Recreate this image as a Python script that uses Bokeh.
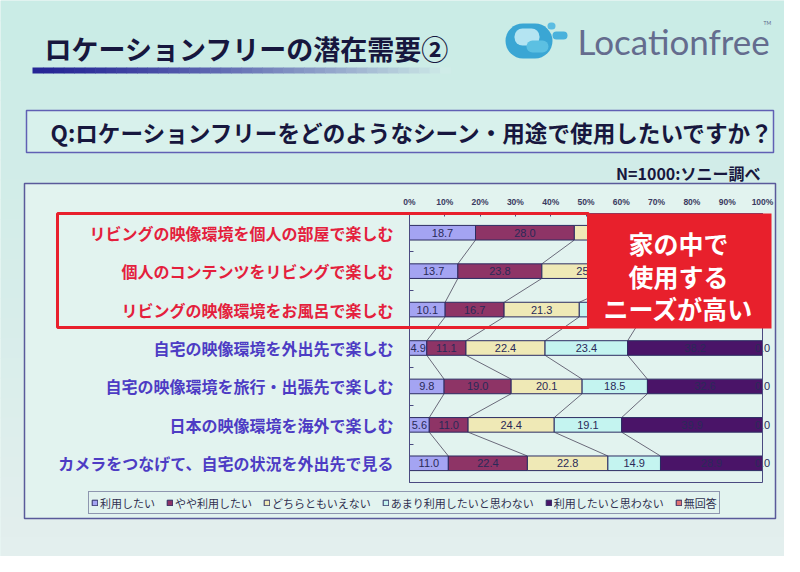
from bokeh.plotting import figure
from bokeh.models import (ColumnDataSource, Range1d, FixedTicker, PrintfTickFormatter,
                          BoxAnnotation, Label, Legend, LegendItem)
from bokeh.core.properties import value
from bokeh.embed import file_html
from bokeh.resources import INLINE

# ---------------- data ----------------
categories = [
    "リビングの映像環境を個人の部屋で楽しむ",
    "個人のコンテンツをリビングで楽しむ",
    "リビングの映像環境をお風呂で楽しむ",
    "自宅の映像環境を外出先で楽しむ",
    "自宅の映像環境を旅行・出張先で楽しむ",
    "日本の映像環境を海外で楽しむ",
    "カメラをつなげて、自宅の状況を外出先で見る",
]
series_names = ["利用したい", "やや利用したい", "どちらともいえない",
                "あまり利用したいと思わない", "利用したいと思わない", "無回答"]
s1 = [18.7, 13.7, 10.1, 4.9, 9.8, 5.6, 11.0]
s2 = [28.0, 23.8, 16.7, 11.1, 19.0, 11.0, 22.4]
s3 = [24.8, 25.6, 21.3, 22.4, 20.1, 24.4, 22.8]
s4 = [13.6, 14.9, 17.9, 23.4, 18.5, 19.1, 14.9]
s5 = [14.9, 22.0, 34.0, 38.2, 32.6, 39.9, 28.9]
s6 = [0.0, 0.0, 0.0, 0.0, 0.0, 0.0, 0.0]
x_ticks = [0, 10, 20, 30, 40, 50, 60, 70, 80, 90, 100]
title_text = "ロケーションフリーの潜在需要②"
question_text = "Q:ロケーションフリーをどのようなシーン・用途で使用したいですか？"
source_text = "N=1000:ソニー調べ"
callout_lines = ["家の中で", "使用する", "ニーズが高い"]
highlighted = 3  # first three categories are highlighted

# ---------------- style ----------------
JP = "Noto Sans CJK JP"
BG = "#d3eee8"
INNER = "#e2f3ef"
BAR_LINE = "#2c2c62"
AX = "#4a4a80"
RED = "#e8202c"
series_colors = ["#a4a4f2", "#8e3466", "#efe9b6", "#c4f4f0", "#4a1468", "#e07272"]
W, H = 784, 556
ZERO_X = 409.0      # canvas px of 0 %
PCT = 3.53          # px per percent
TOP_Y = 213.0       # canvas px of the top category boundary
ROW = 38.43         # px per category row

series = [s1, s2, s3, s4, s5, s6]
rows = list(range(len(categories)))
BAR_H = 0.38

x_start = -ZERO_X / PCT
x_end = (W - ZERO_X) / PCT
y_top = -0.5 - TOP_Y / ROW
y_bottom = -0.5 + (H - TOP_Y) / ROW

p = figure(width=W, height=H, x_range=Range1d(x_start, x_end),
           y_range=Range1d(y_bottom, y_top), x_axis_location="above",
           output_backend="svg", toolbar_location=None, min_border=0)
p.background_fill_color = BG
p.border_fill_color = BG
p.outline_line_color = None
p.xgrid.visible = False
p.ygrid.visible = False


def box(l, t, r, b, fill_color=None, line_color=None, line_width=1, level="annotation", **kw):
    bx = BoxAnnotation(left=l, right=r, top=t, bottom=b,
                       left_units="canvas", right_units="canvas",
                       top_units="canvas", bottom_units="canvas",
                       fill_color=fill_color, fill_alpha=1,
                       line_color=line_color, line_alpha=1, line_width=line_width,
                       level=level, **kw)
    p.add_layout(bx)
    return bx


def mix(ca, cb, t):
    return "#%02x%02x%02x" % tuple(int(ca[i] + (cb[i] - ca[i]) * t) for i in range(3))


# slide background: soft vertical gradient
n_bg = 28
for k in range(n_bg):
    box(0, H * k / n_bg, W, H * (k + 1) / n_bg + 1,
        fill_color=mix((0xca, 0xec, 0xe6), (0xe3, 0xef, 0xee), k / (n_bg - 1)), level="underlay")

# outer chart box
box(24, 183, 775, 518, fill_color=INNER, line_color="#5a5a9a", line_width=1.5, level="underlay")
# question box
box(26, 110, 773, 152, fill_color="#d8f1ec", line_color="#6060b4", line_width=1.5, level="underlay")

# title gradient bar
n_seg = 40
x0b, x1b = 32, 450
for k in range(n_seg):
    t = (k / (n_seg - 1)) ** 1.3
    xa = x0b + (x1b - x0b) * k / n_seg
    xb = x0b + (x1b - x0b) * (k + 1) / n_seg + 0.6
    box(xa, 67, xb, 73, fill_color=mix((0x26, 0x26, 0x96), (0xcf, 0xec, 0xe8), t), level="underlay")

# logo blob
box(505, 23, 552, 58, fill_color="#3aa6d4", border_radius=18, level="underlay")
box(514, 28, 539, 45, fill_color="#b4e4f2", border_radius=8, level="underlay")
box(526, 40, 548, 52, fill_color="#5cc0e2", border_radius=6, level="underlay")
box(552, 31, 567, 39, fill_color="#4ab2dc", border_radius=4, level="underlay")
box(547, 22, 555, 29, fill_color="#5cbde2", border_radius=4, level="underlay")


def label(x, y, text, size, color="#17173e", bold=True, align="left", font=JP, baseline="middle"):
    lb = Label(x=x, y=y, x_units="canvas", y_units="canvas", text=text,
               text_font=font, text_font_size=size, text_color=color,
               text_font_style="bold" if bold else "normal",
               text_align=align, text_baseline=baseline)
    p.add_layout(lb)
    return lb


label(44, 48, title_text, "27px")
label(577, 40, "Locationfree", "35px", color="#646c8e", bold=False, font="Lato")
label(763, 22, "TM", "5px", color="#5c6488", bold=False, font="Lato")
label(50, 132, question_text, "22.6px")
label(760, 172, source_text, "16px", align="right")

# ---- series lines ----
cums = []
run = [0.0] * len(rows)
for s in series:
    run = [run[i] + s[i] for i in rows]
    cums.append(run)
xs0, ys0, xs1, ys1 = [], [], [], []
for k in range(4):
    c = cums[k]
    for i in rows[:-1]:
        xs0.append(c[i]); ys0.append(i + BAR_H / 2)
        xs1.append(c[i + 1]); ys1.append(i + 1 - BAR_H / 2)
p.segment(x0=xs0, y0=ys0, x1=xs1, y1=ys1, line_color="#6a6a7a", line_width=1)

# ---- bars ----
items = []
prev = [0.0] * len(rows)
for j, s in enumerate(series):
    left = prev
    right = [left[i] + s[i] for i in rows]
    src = ColumnDataSource(dict(y=rows, left=left, right=right,
                                mid=[(left[i] + right[i]) / 2 for i in rows],
                                txt=["%.1f" % v for v in s]))
    r = p.hbar(y="y", left="left", right="right", height=BAR_H, source=src,
               fill_color=series_colors[j], line_color=BAR_LINE, line_width=1)
    p.text(x="mid", y="y", text="txt", source=src, text_align="center",
           text_baseline="middle", text_font=value("Liberation Sans"),
           text_font_size="11px", text_color="#2a2a58")
    items.append(LegendItem(label=series_names[j], renderers=[r]))
    prev = right

# plot-area border
p.add_layout(BoxAnnotation(left=0, right=100, top=-0.5, bottom=6.5, fill_color=None,
                           line_color=AX, line_alpha=1, line_width=1))

# ---- axes (fixed inside the frame) ----
xa = p.xaxis[0]
xa.fixed_location = -0.5
xa.ticker = FixedTicker(ticks=x_ticks)
xa.formatter = PrintfTickFormatter(format="%d%%")
xa.bounds = (0, 100)
xa.major_label_orientation = "horizontal"
xa.major_label_text_font_size = "8.5px"
xa.major_label_text_font_style = "bold"
xa.major_label_text_font = "Liberation Sans"
xa.major_label_text_color = "#3a3a60"
xa.major_tick_in = 3
xa.major_tick_out = 0
xa.minor_tick_line_color = None
xa.axis_line_color = AX
xa.major_tick_line_color = AX
xa.major_label_standoff = 7

ya = p.yaxis[0]
ya.fixed_location = 0
ya.ticker = FixedTicker(ticks=[i - 0.5 for i in range(len(rows) + 1)])
ya.major_label_text_color = None
ya.major_label_text_font_size = "1px"
ya.bounds = (-0.5, 6.5)
ya.major_tick_in = 4
ya.major_tick_out = 0
ya.minor_tick_line_color = None
ya.axis_line_color = AX
ya.major_tick_line_color = AX

# ---- category labels ----
cat_colors = [("#e4203c" if i < highlighted else "#4d3cc4") for i in rows]
cat_src = ColumnDataSource(dict(x=[-16.0 / PCT] * len(rows), y=rows, name=categories, color=cat_colors))
p.text(x="x", y="y", text="name", source=cat_src, text_align="right", text_baseline="middle",
       text_font=value(JP), text_font_size="16px", text_font_style="bold", text_color="color")

# ---- highlight boxes ----
box(57, 213, 588, 327, line_color=RED, line_width=3)
box(588, 213, 771, 328, fill_color=RED)
for txt, yy in zip(callout_lines, [242, 275, 307]):
    label(678, yy, txt, "25px", color="white", align="center")

# ---- legend ----
legend = Legend(items=items, orientation="horizontal", location=(88, H - 514),
                glyph_width=7, glyph_height=7, label_standoff=2, spacing=11,
                padding=2, margin=0, label_height=17,
                label_text_font=JP, label_text_font_size="11px", label_text_color="#303050",
                background_fill_color=INNER, background_fill_alpha=1,
                border_line_color="#3a3a70", border_line_width=1.5)
p.add_layout(legend, "center")

open("out.html", "w").write(file_html(p, INLINE))
